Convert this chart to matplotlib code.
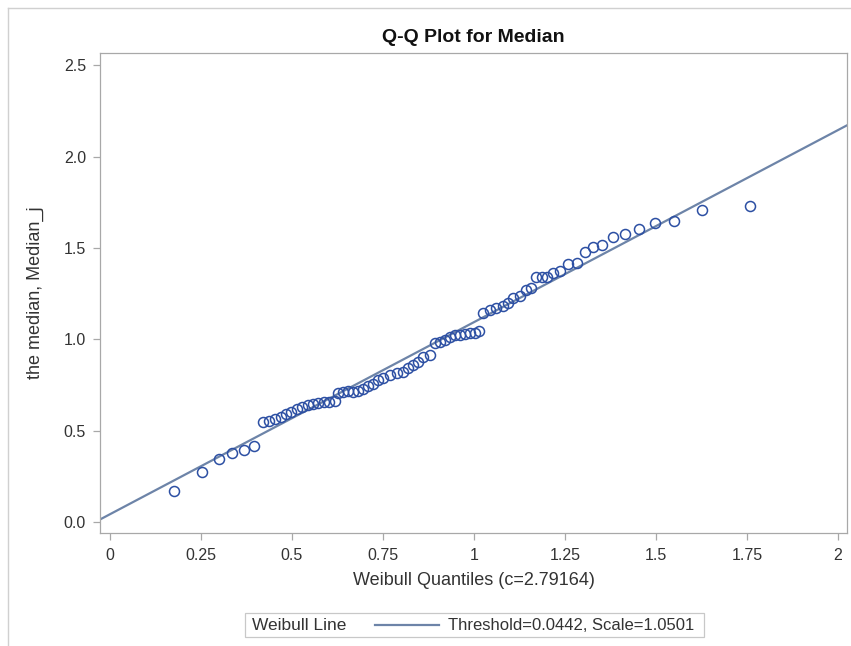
import matplotlib
matplotlib.use("Agg")
import matplotlib.pyplot as plt
from matplotlib.lines import Line2D
from matplotlib.patches import Rectangle
import numpy as np

plt.rcParams["font.family"] = ["Liberation Sans", "DejaVu Sans"]

weibull_q = [
    0.177, 0.252, 0.299, 0.336, 0.368, 0.395,
    0.421, 0.438, 0.453, 0.469, 0.484, 0.499, 0.515, 0.529, 0.545, 0.559,
    0.572, 0.588, 0.602, 0.618, 0.627, 0.641, 0.655, 0.668, 0.682, 0.696,
    0.710, 0.723, 0.737, 0.751,
    0.769, 0.788, 0.804, 0.820, 0.833, 0.847, 0.861, 0.879, 0.893, 0.907,
    0.920, 0.934, 0.948, 0.962, 0.975, 0.989, 1.003, 1.015,
    1.026, 1.044, 1.062, 1.081, 1.094, 1.108, 1.126, 1.143, 1.156, 1.170,
    1.186, 1.200, 1.218, 1.236, 1.259, 1.282, 1.305, 1.328, 1.351, 1.383,
    1.415, 1.454, 1.497, 1.550, 1.626, 1.758,
]
median_j = [
    0.174, 0.276, 0.349, 0.378, 0.398, 0.418,
    0.551, 0.555, 0.564, 0.575, 0.591, 0.604, 0.619, 0.633, 0.642, 0.648,
    0.655, 0.660, 0.660, 0.666, 0.709, 0.713, 0.720, 0.715, 0.719, 0.728,
    0.746, 0.757, 0.779, 0.788,
    0.806, 0.815, 0.824, 0.843, 0.861, 0.879, 0.906, 0.915, 0.979, 0.988,
    0.997, 1.015, 1.025, 1.025, 1.030, 1.034, 1.034, 1.048,
    1.143, 1.161, 1.171, 1.183, 1.201, 1.225, 1.238, 1.271, 1.280, 1.340,
    1.340, 1.340, 1.365, 1.376, 1.413, 1.420, 1.477, 1.507, 1.516, 1.562,
    1.577, 1.604, 1.635, 1.648, 1.708, 1.731,
]

threshold = 0.0442
scale = 1.0501
x_ticks = [0, 0.25, 0.5, 0.75, 1, 1.25, 1.5, 1.75, 2]
x_tick_labels = ["0", "0.25", "0.5", "0.75", "1", "1.25", "1.5", "1.75", "2"]
y_ticks = [0.0, 0.5, 1.0, 1.5, 2.0, 2.5]

marker_color = "#2c4fa3"
line_color = "#6d84a8"
frame_color = "#a8a8a8"
text_color = "#333333"

fig = plt.figure(figsize=(8.51, 6.46), dpi=100)
ax = fig.add_axes([100 / 851, 113 / 646, 747 / 851, 480 / 646])

xlim = (-0.027, 2.025)
ylim = (-0.058, 2.566)

# fitted Weibull reference line across the whole plot width
xs = np.array(xlim)
ax.plot(xs, threshold + scale * xs, color=line_color, lw=1.6, zorder=2)
ax.plot(weibull_q, median_j, linestyle="none", marker="o", markersize=7.2,
        markerfacecolor="none", markeredgecolor=marker_color,
        markeredgewidth=1.1, zorder=3)

ax.set_xlim(*xlim)
ax.set_ylim(*ylim)
ax.set_xticks(x_ticks)
ax.set_xticklabels(x_tick_labels)
ax.set_yticks(y_ticks)
ax.set_yticklabels([f"{t:.1f}" for t in y_ticks])
ax.tick_params(colors=frame_color, labelcolor=text_color, labelsize=11.5,
               length=5, width=0.9)
ax.tick_params(axis="x", pad=6)
ax.tick_params(axis="y", pad=5)
for spine in ax.spines.values():
    spine.set_color(frame_color)
    spine.set_linewidth(0.9)

ax.set_title("Q-Q Plot for Median", fontsize=14, fontweight="bold",
             color="#111111", pad=8)
ax.set_xlabel("Weibull Quantiles (c=2.79164)", fontsize=13,
              color=text_color, labelpad=6)
ax.set_ylabel("the median, Median_j", fontsize=13, color=text_color,
              labelpad=14)

# legend box drawn in figure pixels
W, H = 851, 646
fig.patches.append(Rectangle((245 / W, 1 - 637 / H), 459 / W, 24 / H,
                             transform=fig.transFigure, fill=False,
                             edgecolor="#c8c8c8", lw=0.9))
fig.text(252 / W, 1 - 625 / H, "Weibull Line", fontsize=12.5,
         color=text_color, va="center", ha="left")
fig.lines.append(Line2D([375 / W, 439 / W], [1 - 625 / H, 1 - 625 / H],
                        transform=fig.transFigure, color=line_color, lw=1.6))
fig.text(448 / W, 1 - 625 / H, "Threshold=0.0442, Scale=1.0501",
         fontsize=12, color=text_color, va="center", ha="left")

# outer frame (top and left edges only visible in the crop)
fig.lines.append(Line2D([8 / W, 1], [1 - 8 / H, 1 - 8 / H],
                        transform=fig.transFigure, color="#d0d0d0", lw=1))
fig.lines.append(Line2D([8 / W, 8 / W], [0, 1 - 8 / H],
                        transform=fig.transFigure, color="#d0d0d0", lw=1))

fig.savefig("out.png", dpi=100)
